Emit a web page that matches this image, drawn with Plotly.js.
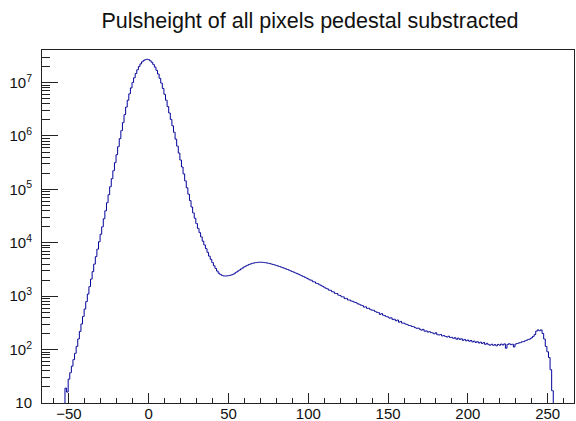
<!DOCTYPE html>
<html>
<head>
<meta charset="utf-8">
<script src="https://cdn.plot.ly/plotly-3.0.1.min.js"></script>
<style>
  html, body { margin: 0; padding: 0; background: #ffffff; }
  #chart { width: 576px; height: 421px; }
</style>
</head>
<body>
<div id="chart"></div>
<script>
// Pulse-height histogram, 1 ADC count per bin, first bin centre at -53
const firstBinCentre = -53;
const counts = [
  0, 19, 16, 28, 37, 49, 65, 85, 115, 158,                          // -53 .. -44
  219, 302, 417, 575, 794, 1096, 1514, 2089, 2884, 3981,            // -43 .. -34
  5495, 7586, 10470, 14450, 19950, 28180, 39810, 56230, 79430, 112200, // -33 .. -24
  158500, 223900, 316200, 446700, 631000, 891300, 1259000, 1778000, 2512000, 3467000, // -23 .. -14
  4677000, 6166000, 7943000, 10000000, 12300000, 14790000, 17380000, 19950000, 22390000, 24550000, // -13 .. -4
  26000000, 26920000, 27290000, 26920000, 25700000, 23990000, 21880000, 19500000, 16980000, 14450000, // -3 .. 6
  12020000, 9772000, 7762000, 6026000, 4677000, 3548000, 2692000, 2042000, 1549000, 1175000, // 7 .. 16
  871000, 645700, 478600, 354800, 263000, 195000, 144500, 107200, 81280, 61660, // 17 .. 26
  46770, 36310, 28840, 22910, 18620, 15490, 12880, 10720, 9120, 7762, // 27 .. 36
  6607, 5623, 4898, 4266, 3715, 3311, 2951, 2692, 2541, 2455,       // 37 .. 46
  2399, 2388, 2399, 2427, 2455, 2512, 2570, 2692, 2818, 2951,       // 47 .. 56
  3090, 3236, 3388, 3548, 3673, 3802, 3936, 4027, 4121, 4188,       // 57 .. 66
  4246, 4285, 4315, 4325, 4315, 4285, 4246, 4198, 4140, 4074,       // 67 .. 76
  3999, 3926, 3846, 3767, 3681, 3597, 3508, 3420, 3334, 3251,       // 77 .. 86
  3162, 3076, 2985, 2897, 2812, 2729, 2649, 2570, 2489, 2410,       // 87 .. 96
  2333, 2254, 2178, 2104, 2018, 1990, 1870, 1852, 1745, 1722,       // 97 .. 106
  1640, 1597, 1530, 1475, 1410, 1378, 1300, 1290, 1215, 1196,       // 107 .. 116
  1120, 1125, 1045, 1030, 975, 972, 900, 910, 850, 848,             // 117 .. 126
  812, 800, 770, 758, 722, 706, 680, 668, 625, 632,                 // 127 .. 136
  590, 594, 560, 548, 545, 518, 500, 494, 456, 472,                 // 137 .. 146
  440, 432, 415, 408, 388, 394, 365, 371, 346, 358,                 // 147 .. 156
  326, 337, 312, 313, 300, 296, 283, 282, 271, 269,                 // 157 .. 166
  258, 250, 253, 241, 231, 239, 221, 224, 213, 217,                 // 167 .. 176
  208, 205, 198, 206, 190, 188, 192, 180, 183, 176,                 // 177 .. 186
  172, 178, 168, 170, 162, 167, 156, 164, 155, 160,                 // 187 .. 196
  149, 155, 146, 151, 143, 148, 139, 144, 136, 141,                 // 197 .. 206
  133, 138, 130, 136, 125, 131, 124, 121, 126, 120,                 // 207 .. 216
  124, 118, 125, 121, 127, 122, 128, 106, 125, 129,                 // 217 .. 226
  124, 126, 112, 127, 130, 133, 135, 140, 141, 146,                 // 227 .. 236
  150, 155, 158, 166, 176, 191, 221, 234, 226, 234,                 // 237 .. 246
  200, 158, 115, 91, 71, 42, 17, 0                                  // 247 .. 254
];

// axis decoration
const xMajor = [-50, 0, 50, 100, 150, 200, 250];
const yMajor = [10, 100, 1e3, 1e4, 1e5, 1e6, 1e7];
const yMajorText = ['10', '10<sup>2</sup>', '10<sup>3</sup>', '10<sup>4</sup>',
                    '10<sup>5</sup>', '10<sup>6</sup>', '10<sup>7</sup>'];
const chartTitle = 'Pulsheight of all pixels pedestal substracted';

const xRange = [-66.9, 266.5];
const yLogRange = [1, 7.61];

const centres = counts.map((_, i) => firstBinCentre + i);
// empty bins sit below the visible log range so the outline drops to the frame
const drawn = counts.map(c => (c > 0 ? c : 1));

const yMinor = [];
for (let d = 1; d <= 7; d++) {
  for (let m = 2; m <= 9; m++) {
    const v = m * Math.pow(10, d);
    if (Math.log10(v) < yLogRange[1]) yMinor.push(v);
  }
}

const trace = {
  type: 'scatter',
  mode: 'lines',
  x: centres,
  y: drawn,
  line: { shape: 'hvh', color: '#000099', width: 1 },
  hoverinfo: 'skip',
  showlegend: false
};

const fontFamily = '"Liberation Sans", Arial, sans-serif';
const frameColor = '#222222';

const layout = {
  width: 576,
  height: 421,
  paper_bgcolor: '#ffffff',
  plot_bgcolor: '#ffffff',
  margin: { l: 42, r: 2, t: 50, b: 18, pad: 0 },
  showlegend: false,
  title: {
    text: chartTitle,
    font: { family: fontFamily, size: 21.5, color: '#111111' },
    x: 310 / 576,
    xanchor: 'center',
    xref: 'container',
    yref: 'container',
    y: 1 - 20 / 421,
    yanchor: 'middle'
  },
  xaxis: {
    type: 'linear',
    range: xRange,
    showgrid: false,
    zeroline: false,
    showline: true,
    linecolor: frameColor,
    linewidth: 1,
    mirror: true,
    ticks: 'inside',
    ticklen: 10,
    tickwidth: 1,
    tickcolor: frameColor,
    tickmode: 'array',
    tickvals: xMajor,
    tickfont: { family: fontFamily, size: 15, color: '#111111' },
    ticklabelstandoff: -3,
    minor: { ticks: 'inside', ticklen: 5, tickwidth: 1, tickcolor: frameColor, dtick: 10, tick0: 0, showgrid: false },
    automargin: false,
    fixedrange: true
  },
  yaxis: {
    type: 'log',
    range: yLogRange,
    showgrid: false,
    zeroline: false,
    showline: true,
    linecolor: frameColor,
    linewidth: 1,
    mirror: true,
    ticks: 'inside',
    ticklen: 16,
    tickwidth: 1,
    tickcolor: frameColor,
    tickmode: 'array',
    tickvals: yMajor,
    ticktext: yMajorText,
    tickfont: { family: fontFamily, size: 15, color: '#111111' },
    ticklabelstandoff: 6,
    minor: { ticks: 'inside', ticklen: 8, tickwidth: 1, tickcolor: frameColor, tickmode: 'array', tickvals: yMinor, showgrid: false },
    automargin: false,
    fixedrange: true
  }
};

Plotly.newPlot('chart', [trace], layout, { staticPlot: true, displayModeBar: false });
</script>
</body>
</html>
